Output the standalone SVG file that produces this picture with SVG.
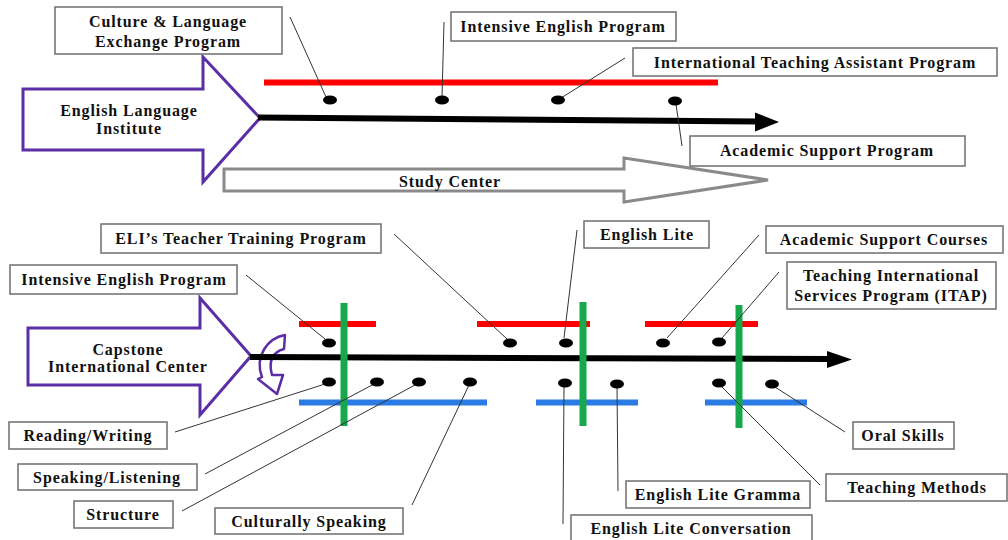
<svg xmlns="http://www.w3.org/2000/svg" width="1008" height="540" viewBox="0 0 1008 540">
  <style>
    .box { fill: #ffffff; stroke: #6e6e6e; stroke-width: 1.5; }
    .lbl { font-family: "Liberation Serif", "DejaVu Serif", "Times New Roman", serif; font-weight: bold; font-size: 16px; letter-spacing: 0.9px; fill: #111111; text-anchor: middle; dominant-baseline: central; }
    .big { fill: #ffffff; stroke: #5b2ea6; stroke-width: 3; stroke-linejoin: miter; }
    .lead { stroke: #333333; stroke-width: 1; fill: none; }
    .dot { fill: #000000; }
    .red { stroke: #ff0000; stroke-width: 6; }
    .blue { stroke: #2b7be4; stroke-width: 6; }
    .green { stroke: #16a84a; stroke-width: 7; }
    .spine { stroke: #000000; stroke-width: 6; }
  </style>

  <!-- ===== upper timeline: English Language Institute ===== -->
  <g id="study-center">
    <polygon points="224,169 624,169 624,158 768,180 624,202 624,191 224,191" fill="#ffffff" stroke="#8a8a8a" stroke-width="3"/>
    <text class="lbl" x="450" y="181">Study Center</text>
  </g>

  <g id="eli">
    <polygon class="big" points="23,89 203,89 203,57 260,118 203,182 203,150 23,150"/>
    <text class="lbl" x="129" y="110">English Language</text>
    <text class="lbl" x="129" y="128">Institute</text>
  </g>

  <g id="eli-bars">
    <line class="red" x1="264" y1="82.5" x2="718" y2="82.5"/>
  </g>

  <g id="connectors-top">
    <line class="spine" x1="258" y1="117.5" x2="758" y2="121.5"/>
    <polygon points="755,112.5 779,122 755,131.5" fill="#000000"/>
    <line class="lead" x1="290" y1="17" x2="326" y2="97"/>
    <line class="lead" x1="444" y1="22" x2="442" y2="97"/>
    <line class="lead" x1="625" y1="58" x2="561" y2="98"/>
    <line class="lead" x1="676" y1="104" x2="682" y2="146"/>
    <ellipse class="dot" cx="330" cy="100" rx="7" ry="4.5"/>
    <ellipse class="dot" cx="442" cy="100" rx="7" ry="4.5"/>
    <ellipse class="dot" cx="558" cy="100" rx="7" ry="4.5"/>
    <ellipse class="dot" cx="675" cy="101" rx="7" ry="4.5"/>
  </g>

  <g id="cle">
    <rect class="box" x="55" y="7" width="227" height="47"/>
    <text class="lbl" x="168" y="21">Culture &amp; Language</text>
    <text class="lbl" x="168" y="41">Exchange Program</text>
  </g>
  <g id="iep-top">
    <rect class="box" x="451" y="12" width="225" height="29"/>
    <text class="lbl" x="563" y="26.5">Intensive English Program</text>
  </g>
  <g id="itap-top">
    <rect class="box" x="633" y="48" width="364" height="28"/>
    <text class="lbl" x="815" y="62">International Teaching Assistant Program</text>
  </g>
  <g id="asp">
    <rect class="box" x="690" y="136" width="275" height="30"/>
    <text class="lbl" x="827" y="150">Academic Support Program</text>
  </g>

  <!-- ===== lower timeline: Capstone International Center ===== -->
  <g id="capstone">
    <polygon class="big" points="28,328 200,328 200,298 251,356 200,415 200,385 28,385"/>
    <text class="lbl" x="128" y="349">Capstone</text>
    <text class="lbl" x="128" y="366">International Center</text>
    <path d="M 285 335 C 268 338 254 356 262 377 L 258 379 L 277 394 L 283 375 L 272 375 C 268 360 273 352 284 349 Z" fill="#ffffff" stroke="#5b2ea6" stroke-width="2.5" stroke-linejoin="round"/>
  </g>

  <g id="cic-bars">
    <line class="red" x1="299" y1="324" x2="376" y2="324"/>
    <line class="red" x1="477" y1="324" x2="590" y2="324"/>
    <line class="red" x1="645" y1="324" x2="758" y2="324"/>
    <line class="blue" x1="299" y1="402.5" x2="487" y2="402.5"/>
    <line class="blue" x1="536" y1="402.5" x2="638" y2="402.5"/>
    <line class="blue" x1="705" y1="402.5" x2="807" y2="402.5"/>
  </g>

  <g id="connectors-bottom">
    <line class="spine" x1="250" y1="357" x2="830" y2="359"/>
    <polygon points="827,351 852,359.5 827,368" fill="#000000"/>
    <line class="green" x1="344" y1="303" x2="344" y2="426"/>
    <line class="green" x1="583" y1="302" x2="583" y2="426"/>
    <line class="green" x1="739" y1="305" x2="739" y2="428"/>

    <line class="lead" x1="394" y1="234" x2="507" y2="339"/>
    <line class="lead" x1="246" y1="275" x2="325" y2="339"/>
    <line class="lead" x1="577" y1="230" x2="564" y2="338"/>
    <line class="lead" x1="759" y1="235" x2="667" y2="338"/>
    <line class="lead" x1="779" y1="272" x2="722" y2="338"/>

    <line class="lead" x1="175" y1="432" x2="325" y2="384"/>
    <line class="lead" x1="205" y1="474" x2="374" y2="384"/>
    <line class="lead" x1="182" y1="511" x2="415" y2="385"/>
    <line class="lead" x1="412" y1="505" x2="469" y2="385"/>
    <line class="lead" x1="564" y1="385" x2="563" y2="524"/>
    <line class="lead" x1="617" y1="386" x2="618" y2="491"/>
    <line class="lead" x1="820" y1="485" x2="721" y2="386"/>
    <line class="lead" x1="845" y1="432" x2="775" y2="387"/>

    <ellipse class="dot" cx="329" cy="343" rx="7" ry="4.5"/>
    <ellipse class="dot" cx="510" cy="343" rx="7" ry="4.5"/>
    <ellipse class="dot" cx="566" cy="343" rx="7" ry="4.5"/>
    <ellipse class="dot" cx="663" cy="343" rx="7" ry="4.5"/>
    <ellipse class="dot" cx="719" cy="342" rx="7" ry="4.5"/>

    <ellipse class="dot" cx="329" cy="382" rx="7" ry="4.5"/>
    <ellipse class="dot" cx="377" cy="382" rx="7" ry="4.5"/>
    <ellipse class="dot" cx="419" cy="382" rx="7" ry="4.5"/>
    <ellipse class="dot" cx="470" cy="382" rx="7" ry="4.5"/>
    <ellipse class="dot" cx="565" cy="383" rx="7" ry="4.5"/>
    <ellipse class="dot" cx="617" cy="384" rx="7" ry="4.5"/>
    <ellipse class="dot" cx="719" cy="383" rx="7" ry="4.5"/>
    <ellipse class="dot" cx="772" cy="384" rx="7" ry="4.5"/>
  </g>

  <g id="eli-ttp">
    <rect class="box" x="101" y="224" width="280" height="29"/>
    <text class="lbl" x="241" y="238.5">ELI’s Teacher Training Program</text>
  </g>
  <g id="iep-bottom">
    <rect class="box" x="10" y="265" width="227" height="29"/>
    <text class="lbl" x="124" y="279.5">Intensive English Program</text>
  </g>
  <g id="english-lite">
    <rect class="box" x="584" y="221" width="125" height="27"/>
    <text class="lbl" x="647" y="234.5">English Lite</text>
  </g>
  <g id="asc">
    <rect class="box" x="766" y="226" width="237" height="27"/>
    <text class="lbl" x="884" y="239.5">Academic Support Courses</text>
  </g>
  <g id="itap-bottom">
    <rect class="box" x="787" y="262" width="209" height="47"/>
    <text class="lbl" x="891" y="275.5">Teaching International</text>
    <text class="lbl" x="891" y="295.5">Services Program (ITAP)</text>
  </g>

  <g id="reading-writing">
    <rect class="box" x="9" y="422" width="158" height="27"/>
    <text class="lbl" x="88" y="435.5">Reading/Writing</text>
  </g>
  <g id="speaking-listening">
    <rect class="box" x="18" y="464" width="179" height="26"/>
    <text class="lbl" x="107" y="477">Speaking/Listening</text>
  </g>
  <g id="structure">
    <rect class="box" x="74" y="501" width="99" height="27"/>
    <text class="lbl" x="123" y="514.5">Structure</text>
  </g>
  <g id="culturally-speaking">
    <rect class="box" x="215" y="508" width="188" height="26"/>
    <text class="lbl" x="309" y="521">Culturally Speaking</text>
  </g>
  <g id="el-gramma">
    <rect class="box" x="626" y="481" width="184" height="27"/>
    <text class="lbl" x="718" y="494.5">English Lite Gramma</text>
  </g>
  <g id="el-conversation">
    <rect class="box" x="571" y="515" width="241" height="28"/>
    <text class="lbl" x="691" y="528">English Lite Conversation</text>
  </g>
  <g id="teaching-methods">
    <rect class="box" x="826" y="474" width="181" height="27"/>
    <text class="lbl" x="917" y="487.5">Teaching Methods</text>
  </g>
  <g id="oral-skills">
    <rect class="box" x="853" y="422" width="101" height="27"/>
    <text class="lbl" x="903" y="435.5">Oral Skills</text>
  </g>
</svg>
